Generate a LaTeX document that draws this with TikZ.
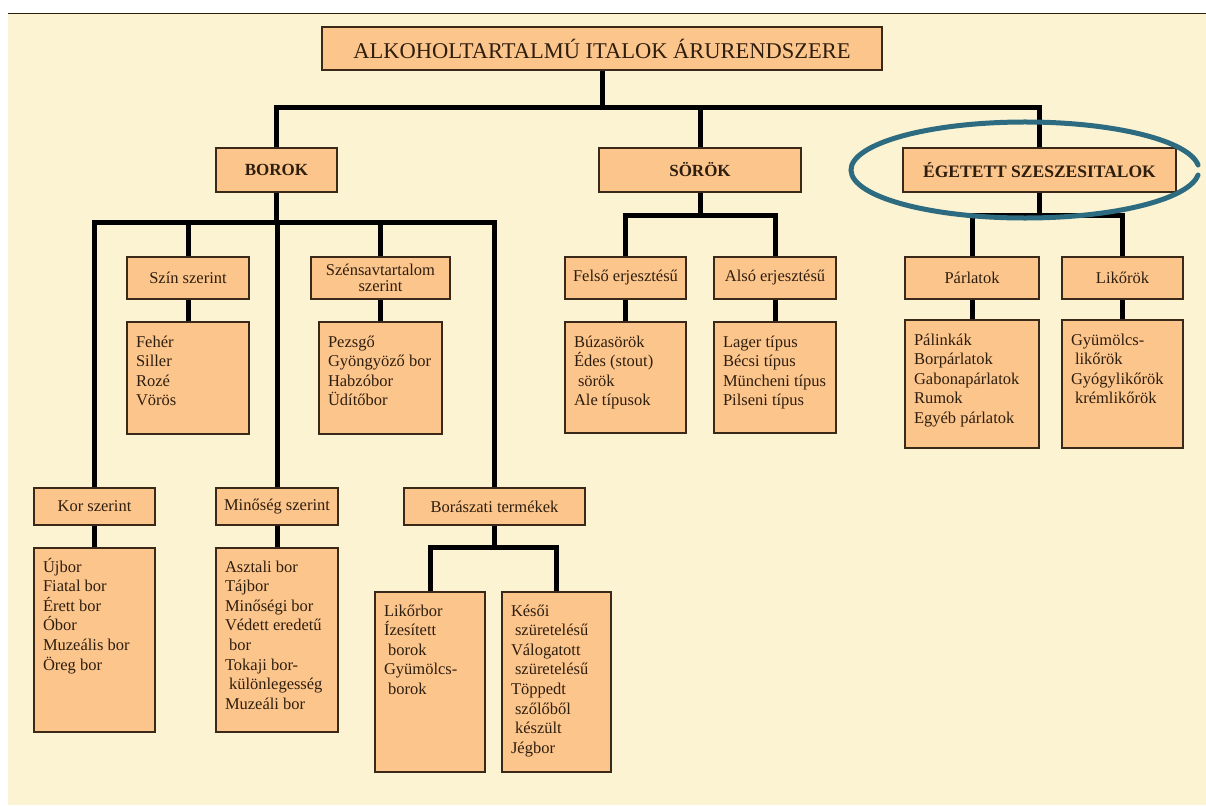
\documentclass[tikz,border=0pt]{standalone}
\usepackage{fontspec}
\setmainfont{Liberation Serif}
\usetikzlibrary{calc}
\pgfdeclarelayer{background}
\pgfsetlayers{background,main}
\definecolor{cream}{HTML}{FCF3D2}
\definecolor{peach}{HTML}{FCC58C}
\definecolor{edgecol}{HTML}{3A2818}
\definecolor{ink}{HTML}{2E1E0E}
\definecolor{ringcol}{HTML}{2C6B80}
\tikzset{
  boxbase/.style={draw=edgecol, line width=1.4pt, fill=peach, inner sep=0pt, text=ink,
    font=\fontsize{16.5}{19.6}\selectfont},
  conn/.style={line width=5pt, draw=black, line cap=rect, line join=miter},
  ring/.style={draw=ringcol, line width=5pt, line cap=round},
}
% header box: [style] name x1 y1 x2 y2 text
\newcommand\hdrbox[7][]{%
  \node[boxbase, align=center, minimum width={(#5-#3)*1pt}, minimum height={(#6-#4)*1pt}, #1]
    (#2) at ({(#3+#5)/2},{(#4+#6)/2}) {#7};}
% list box: [first baseline] name x1 y1 x2 y2 lines
\newcommand\listbox[7][25]{%
  \node[boxbase, minimum width={(#5-#3)*1pt}, minimum height={(#6-#4)*1pt}]
    (#2) at ({(#3+#5)/2},{(#4+#6)/2})
    {\parbox[c][\dimexpr#6pt-#4pt\relax][t]{\dimexpr#5pt-#3pt-18pt\relax}{\raggedright\rule{0pt}{#1pt}#7}};}
\newcommand\ind{\hspace*{4pt}}
\begin{document}
\begin{tikzpicture}[x=1pt,y=-1pt]
\useasboundingbox (0,0) rectangle (1206,805);
% ---------- boxes ----------
\hdrbox[font=\fontsize{22.5}{24}\selectfont]{title}{322}{27}{882}{70}{ALKOHOLTARTALMÚ ITALOK ÁRURENDSZERE}
\hdrbox[font=\fontsize{17}{20}\selectfont\bfseries]{borok}{216}{148}{337}{192}{BOROK}
\hdrbox[font=\fontsize{17}{20}\selectfont\bfseries]{sorok}{599}{148}{801}{192}{SÖRÖK}
\hdrbox[font=\fontsize{17.5}{20}\selectfont\bfseries]{eget}{903}{148}{1176}{192}{ÉGETETT SZESZESITALOK}

\hdrbox{szin}{127}{257}{249}{299}{Szín szerint}
\listbox{szinc}{127}{322}{249}{434}{Fehér\\Siller\\Rozé\\Vörös}
\hdrbox[font=\fontsize{16.5}{15.5}\selectfont]{szensav}{311}{257}{450}{299}{Szénsavtartalom\\szerint}
\listbox{szensavc}{319}{322}{442}{434}{Pezsgő\\Gyöngyöző bor\\Habzóbor\\Üdítőbor}

\hdrbox{felso}{565}{257}{686}{299}{Felső erjesztésű}
\listbox{felsoc}{565}{322}{686}{433}{Búzasörök\\Édes (stout)\\\ind sörök\\Ale típusok}
\hdrbox{also}{714}{257}{836}{299}{Alsó erjesztésű}
\listbox{alsoc}{714}{322}{836}{433}{Lager típus\\Bécsi típus\\Müncheni típus\\Pilseni típus}

\hdrbox{parl}{905}{257}{1039}{299}{Párlatok}
\listbox{parlc}{905}{320}{1039}{448}{Pálinkák\\Borpárlatok\\Gabonapárlatok\\Rumok\\Egyéb párlatok}
\hdrbox{likor}{1062}{257}{1183}{299}{Likőrök}
\listbox{likorc}{1062}{320}{1183}{448}{Gyümölcs-\\\ind likőrök\\Gyógylikőrök\\\ind krémlikőrök}

\hdrbox{kor}{34}{488}{155}{525}{Kor szerint}
\listbox[24]{korc}{34}{548}{155}{732}{Újbor\\Fiatal bor\\Érett bor\\Óbor\\Muzeális bor\\Öreg bor}
\hdrbox{minoseg}{216}{488}{338}{525}{Minőség szerint}
\listbox[24]{minosegc}{216}{548}{338}{732}{Asztali bor\\Tájbor\\Minőségi bor\\Védett eredetű\\\ind bor\\Tokaji bor-\\\ind különlegesség\\Muzeáli bor}
\hdrbox{bor}{404}{488}{585}{525}{Borászati termékek}
\listbox[24]{likorbor}{375}{592}{485}{772}{Likőrbor\\Ízesített\\\ind borok\\Gyümölcs-\\\ind borok}
\listbox[24]{kesoi}{502}{592}{611}{772}{Késői\\\ind szüretelésű\\Válogatott\\\ind szüretelésű\\Töppedt\\\ind szőlőből\\\ind készült\\Jégbor}

% ---------- background and connectors ----------
\begin{pgfonlayer}{background}
  \fill[white] (0,0) rectangle (1206,805);
  \fill[cream] (8,14) rectangle (1206,805);
  \draw[ink, line width=1.6pt] (8,13.5) -- (1206,13.5);
  \coordinate (j0) at (0,108);
  \coordinate (j1) at (0,222);
  \coordinate (j2) at (0,547);
  \coordinate (j3) at (0,215);
  \draw[conn] (title.south) -- (title.south |- j0);
  \draw[conn] (borok.north) |- (eget.north |- j0) -- (eget.north);
  \draw[conn] (sorok.north) -- (sorok.north |- j0);
  % BOROK
  \draw[conn] (borok.south) -- (borok.south |- j1);
  \draw[conn] (kor.north) |- (bor.north |- j1) -- (bor.north);
  \draw[conn] (szin.north) -- (szin.north |- j1);
  \draw[conn] (minoseg.north) -- (minoseg.north |- j1);
  \draw[conn] (szensav.north) -- (szensav.north |- j1);
  \draw[conn] (szin.south) -- (szinc.north);
  \draw[conn] (szensav.south) -- (szensavc.north);
  \draw[conn] (kor.south) -- (korc.north);
  \draw[conn] (minoseg.south) -- (minosegc.north);
  \draw[conn] (bor.south) -- (bor.south |- j2);
  \draw[conn] (likorbor.north) |- (kesoi.north |- j2) -- (kesoi.north);
  % SÖRÖK
  \draw[conn] (sorok.south) -- (sorok.south |- j3);
  \draw[conn] (felso.north) |- (also.north |- j3) -- (also.north);
  \draw[conn] (felso.south) -- (felsoc.north);
  \draw[conn] (also.south) -- (alsoc.north);
  % ÉGETETT
  \draw[conn] (eget.south) -- (eget.south |- j3);
  \draw[conn] (parl.north) |- (likor.north |- j3) -- (likor.north);
  \draw[conn] (parl.south) -- (parlc.north);
  \draw[conn] (likor.south) -- (likorc.north);
\end{pgfonlayer}
% ---------- highlight ring ----------
\draw[ring] (1025,170) ++(6:174pt and 48pt) arc[start angle=6, end angle=354, x radius=174pt, y radius=48pt];
\end{tikzpicture}
\end{document}
